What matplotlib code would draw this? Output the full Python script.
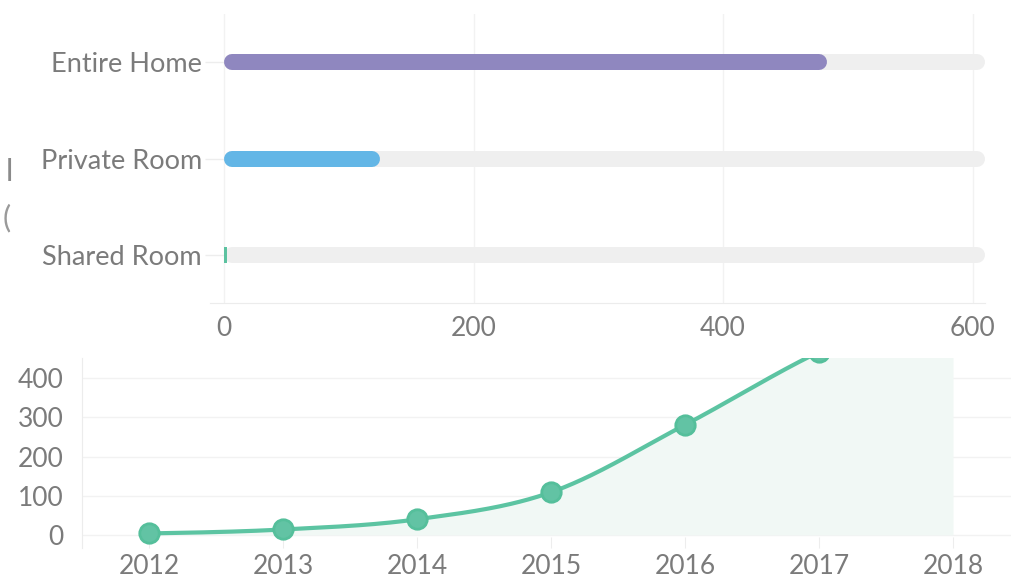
import numpy as np
import matplotlib
matplotlib.use("Agg")
import matplotlib.pyplot as plt

# ---- data ----
room_types = ["Entire Home", "Private Room", "Shared Room"]
room_counts = [483, 125, 2]
room_colors = ["#8f87bf", "#63b6e6", "#5cc2a0"]

years = [2012, 2013, 2014, 2015, 2016, 2017, 2018]
listings = [4, 14, 40, 109, 281, 467, 610]
year_ticks = [2012, 2013, 2014, 2015, 2016, 2017, 2018]
count_ticks = [0, 100, 200, 300, 400]
room_ticks = [0, 200, 400, 600]

# ---- style ----
plt.rcParams["font.family"] = ["Lato", "DejaVu Sans"]
TEXT = "#7b7b7b"
GRID = "#f2f2f2"
TRACK = "#efefef"
GREEN = "#5cc4a2"

W, H = 1011, 576
fig = plt.figure(figsize=(W / 100, H / 100), dpi=100)


def box(left, top, right, bottom):
    return [left / W, 1 - bottom / H, (right - left) / W, (bottom - top) / H]


# ---- room type bars ----
ax1 = fig.add_axes(box(210, 14, 985, 303))
total = sum(room_counts)
ax1.set_xlim(-11.5, total)
ax1.set_ylim(len(room_types) - 0.5, -0.5)
ax1.set_xticks(room_ticks)
ax1.set_yticks(range(len(room_types)))
ax1.set_yticklabels(room_types)
ax1.grid(axis="x", color=GRID, lw=1)
ax1.set_axisbelow(True)
for s in ["top", "right", "left"]:
    ax1.spines[s].set_visible(False)
ax1.spines["bottom"].set_color("#ececec")
ax1.spines["left"].set_position(("data", 0))
ax1.tick_params(axis="x", length=0, pad=9, labelsize=19, labelcolor=TEXT)
ax1.tick_params(axis="y", length=14, width=1, color="#ededed", pad=2,
                labelsize=19.5, labelcolor=TEXT)

bar_px = 16
px_per_unit = ax1.transData.transform((1, 0))[0] - ax1.transData.transform((0, 0))[0]
r = (bar_px / 2) / px_per_unit
lw_pt = bar_px * 72 / 100
for i, (v, c) in enumerate(zip(room_counts, room_colors)):
    ax1.plot([r, total - r], [i, i], color=TRACK, lw=lw_pt,
             solid_capstyle="round", zorder=2)
    if v > 2 * r:
        ax1.plot([r, v - r], [i, i], color=c, lw=lw_pt,
                 solid_capstyle="round", zorder=3)
    else:
        ax1.barh(i, v, height=bar_px / 96, color=c, zorder=3)

# ---- listings over time ----
ax2 = fig.add_axes(box(82, 358, 1020, 548))
ax2.set_xlim(2011.5, 2018.5)
ax2.set_ylim(-33.2, 451.5)
ax2.set_xticks(year_ticks)
ax2.set_yticks(count_ticks)
ax2.grid(axis="y", color=GRID, lw=1)
ax2.set_axisbelow(True)
for s in ["top", "right", "bottom"]:
    ax2.spines[s].set_visible(False)
ax2.spines["left"].set_color("#ececec")
ax2.tick_params(axis="x", direction="in", length=8, color="#ededed",
                pad=4, labelsize=19, labelcolor=TEXT)
ax2.tick_params(axis="y", length=0, pad=13, labelsize=19, labelcolor=TEXT)


def monotone_x(x, y, n=60):
    x = np.asarray(x, float)
    y = np.asarray(y, float)
    h = np.diff(x)
    s = np.diff(y) / h
    m = np.zeros_like(y)
    for i in range(1, len(x) - 1):
        p = (s[i - 1] * h[i] + s[i] * h[i - 1]) / (h[i - 1] + h[i])
        m[i] = (np.sign(s[i - 1]) + np.sign(s[i])) * min(abs(s[i - 1]), abs(s[i]), 0.5 * abs(p))
    m[0] = (3 * s[0] - m[1]) / 2
    m[-1] = (3 * s[-1] - m[-2]) / 2
    xs, ys = [], []
    for i in range(len(x) - 1):
        t = np.linspace(0, 1, n, endpoint=(i == len(x) - 2))
        h00 = 2 * t**3 - 3 * t**2 + 1
        h10 = t**3 - 2 * t**2 + t
        h01 = -2 * t**3 + 3 * t**2
        h11 = t**3 - t**2
        xs.append(x[i] + t * h[i])
        ys.append(h00 * y[i] + h10 * h[i] * m[i] + h01 * y[i + 1] + h11 * h[i] * m[i + 1])
    return np.concatenate(xs), np.concatenate(ys)


cx, cy = monotone_x(years, listings)
ax2.fill_between(cx, 0, cy, color="#f1f8f5", lw=0, zorder=1)
ax2.plot(cx, cy, color=GREEN, lw=3, zorder=3, solid_capstyle="round")
ax2.plot(years, listings, "o", ms=14, mfc="#62c3a4", mec="#55bf9b", mew=2, zorder=4)

# fragments of a side title cut off at the left edge
fig.text(13 / W, 1 - 172 / H, "l", ha="right", va="center", fontsize=22, color="#8a8a8a")
fig.text(11 / W, 1 - 218 / H, "(", ha="right", va="center", fontsize=22, color="#9a9a9a")

fig.savefig("out.png", dpi=100)
